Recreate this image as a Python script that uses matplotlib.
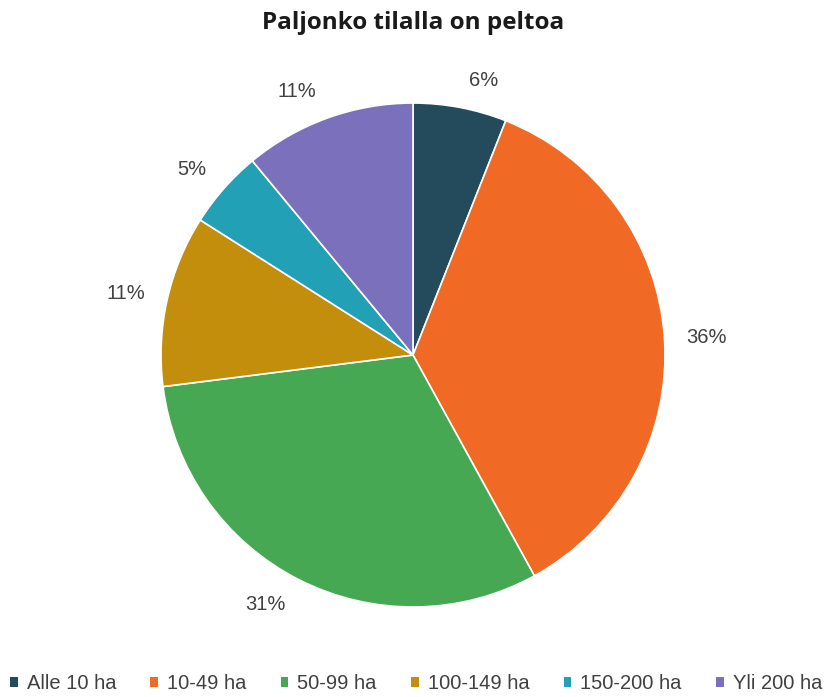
import numpy as np
import matplotlib.pyplot as plt
from matplotlib.patches import Patch

labels = ["Alle 10 ha", "10-49 ha", "50-99 ha", "100-149 ha", "150-200 ha", "Yli 200 ha"]
shares = [6, 36, 31, 11, 5, 11]
colors = ["#234b5b", "#f06a25", "#47a853", "#c38e0c", "#22a0b6", "#7b70bb"]

fig = plt.figure(figsize=(8.27, 6.97), dpi=100)
ax = fig.add_axes([0.1947, 0.1291, 0.6094, 0.7231])

wedges, _ = ax.pie(
    shares,
    colors=colors,
    startangle=90,
    counterclock=False,
    radius=1,
    wedgeprops=dict(edgecolor="white", linewidth=1.2),
)

# Excel-style "outside end" labels: anchored by the edge nearest the pie
for w, s in zip(wedges, shares):
    mid = np.deg2rad((w.theta1 + w.theta2) / 2)
    c, sn = np.cos(mid), np.sin(mid)
    side = 1 if c >= 0 else -1
    ax.text(1.063 * c + 0.024 * side, 1.111 * sn, f"{s}%",
            ha="left" if side > 0 else "right", va="center",
            fontsize=14.5, color="#404040", family="Liberation Sans")

ax.set_xlim(-1, 1)
ax.set_ylim(-1, 1)
ax.set_aspect("equal")

fig.text(0.4994, 0.967, "Paljonko tilalla on peltoa", ha="center", va="center",
         fontsize=17.5, fontweight="bold", family="Open Sans", color="#1a1a1a")

handles = [Patch(facecolor=c, edgecolor="none") for c in colors]
fig.legend(handles, labels, loc="center", bbox_to_anchor=(0.503, 0.019),
           ncol=6, frameon=False, handlelength=0.38, handleheight=0.38,
           handletextpad=0.45, columnspacing=1.7,
           prop=dict(family="Liberation Sans", size=14.5), labelcolor="#404040")

fig.savefig("out.png", dpi=100)
